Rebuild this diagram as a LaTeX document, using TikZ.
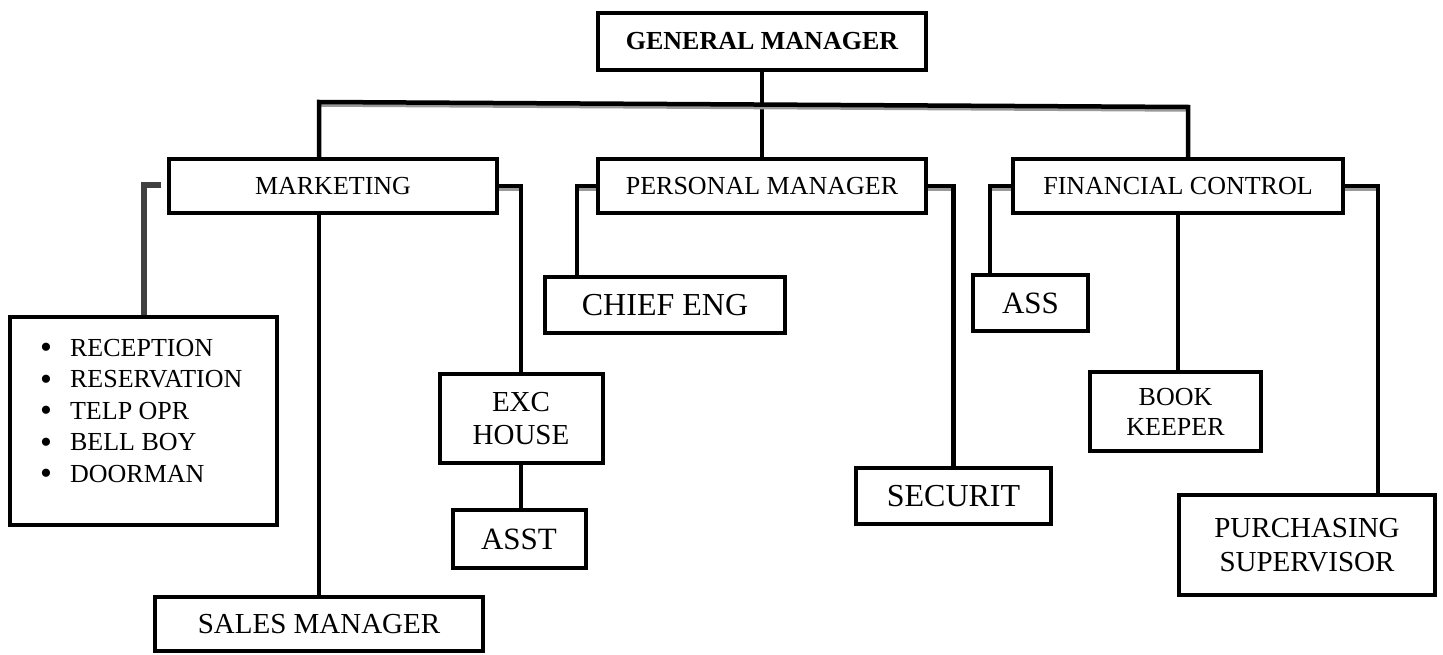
\documentclass[tikz,border=0pt]{standalone}
\usepackage{fontspec}
\setmainfont{Liberation Serif}
\pgfdeclarelayer{bg}
\pgfsetlayers{bg,main}
\newcommand\orgconn[1]{\draw[connshade] #1; \draw[connline] #1;}
\newcommand\bigbul{\smash{\raisebox{-2.5pt}{\fontsize{34}{31}\selectfont\textbullet}}}
\begin{document}
\begin{tikzpicture}[x=1pt,y=-1pt,
  box/.style={draw, line width=4pt, fill=white, inner sep=0pt, align=center,
              font=\fontsize{26}{31}\selectfont},
  connline/.style={line width=4.5pt, line join=miter},
  connshade/.style={draw=black!40, line width=3.5pt, line join=miter,
              transform canvas={yshift=-3pt}},
  bracket/.style={draw=black!75, line width=6.5pt, line join=miter}
  ]
\useasboundingbox (0,0) rectangle (1443,655);

% top level
\node[box, minimum width=328, minimum height=57,
      font=\bfseries\fontsize{26}{31}\selectfont] (gm) at (762,41.5) {GENERAL MANAGER};

% second level
\node[box, minimum width=328, minimum height=54] (mkt) at (333,186) {MARKETING};
\node[box, minimum width=328, minimum height=54] (pm)  at (762,186) {PERSONAL MANAGER};
\node[box, minimum width=330, minimum height=54] (fc)  at (1178,186) {FINANCIAL CONTROL};

% marketing branch
\node[box, minimum width=267, minimum height=208] (rec) at (143.5,421) {};
\node[anchor=base west, inner sep=0pt, font=\fontsize{26}{31.5}\selectfont] (list) at (40,356)
  {\begin{tabular}[t]{@{}l@{\hspace{18pt}}l@{}}
   \bigbul & RECEPTION\\
   \bigbul & RESERVATION\\
   \bigbul & TELP OPR\\
   \bigbul & BELL BOY\\
   \bigbul & DOORMAN
   \end{tabular}};
\node[box, minimum width=163, minimum height=89,
      font=\fontsize{29}{33}\selectfont] (exc) at (521,418.5) {EXC\\HOUSE};
\node[box, minimum width=133, minimum height=58,
      font=\fontsize{31}{36}\selectfont] (asst) at (519,539) {ASST};
\node[box, minimum width=328, minimum height=54,
      font=\fontsize{29}{34}\selectfont] (sm) at (319,624) {SALES MANAGER};

% personal manager branch
\node[box, minimum width=240, minimum height=56,
      font=\fontsize{32}{37}\selectfont] (ce) at (665,305) {CHIEF ENG};
\node[box, minimum width=195, minimum height=56,
      font=\fontsize{32}{37}\selectfont] (sec) at (953.5,496) {SECURIT};

% financial control branch
\node[box, minimum width=115, minimum height=56,
      font=\fontsize{31}{36}\selectfont] (ass) at (1030.5,303) {ASS};
\node[box, minimum width=171, minimum height=79,
      font=\fontsize{26}{30}\selectfont] (bk) at (1175.5,411.5) {BOOK\\KEEPER};
\node[box, minimum width=256, minimum height=100,
      font=\fontsize{29}{34}\selectfont] (pur) at (1307,545) {PURCHASING\\SUPERVISOR};

% helper coordinates
\coordinate (busL) at (319,102);
\coordinate (busR) at (1188,107);
\coordinate (pmL) at (577,0);
\coordinate (fcL) at (990,0);
\coordinate (fcR) at (1378,0);
\coordinate (brk) at (161,185);
\coordinate (brt) at (144,185);

\begin{pgfonlayer}{bg}
  \orgconn{(gm.south) -- (pm.north)}
  \orgconn{(busL |- mkt.north) -- (busL) -- (busR) -- (busR |- fc.north)}
  \orgconn{(sm.north |- mkt.south) -- (sm.north)}
  \orgconn{(mkt.east) -| (exc.north)}
  \orgconn{(exc.south) -- (exc.south |- asst.north)}
  \orgconn{(pm.west) -| (pmL |- ce.north)}
  \orgconn{(pm.east) -| (sec.north)}
  \orgconn{(fc.west) -| (fcL |- ass.north)}
  \orgconn{(fc.south) -- (fc.south |- bk.north)}
  \orgconn{(fc.east) -| (fcR |- pur.north)}
\end{pgfonlayer}

\draw[bracket] (brk) -- (brt) -- (brt |- rec.north);
\end{tikzpicture}
\end{document}
